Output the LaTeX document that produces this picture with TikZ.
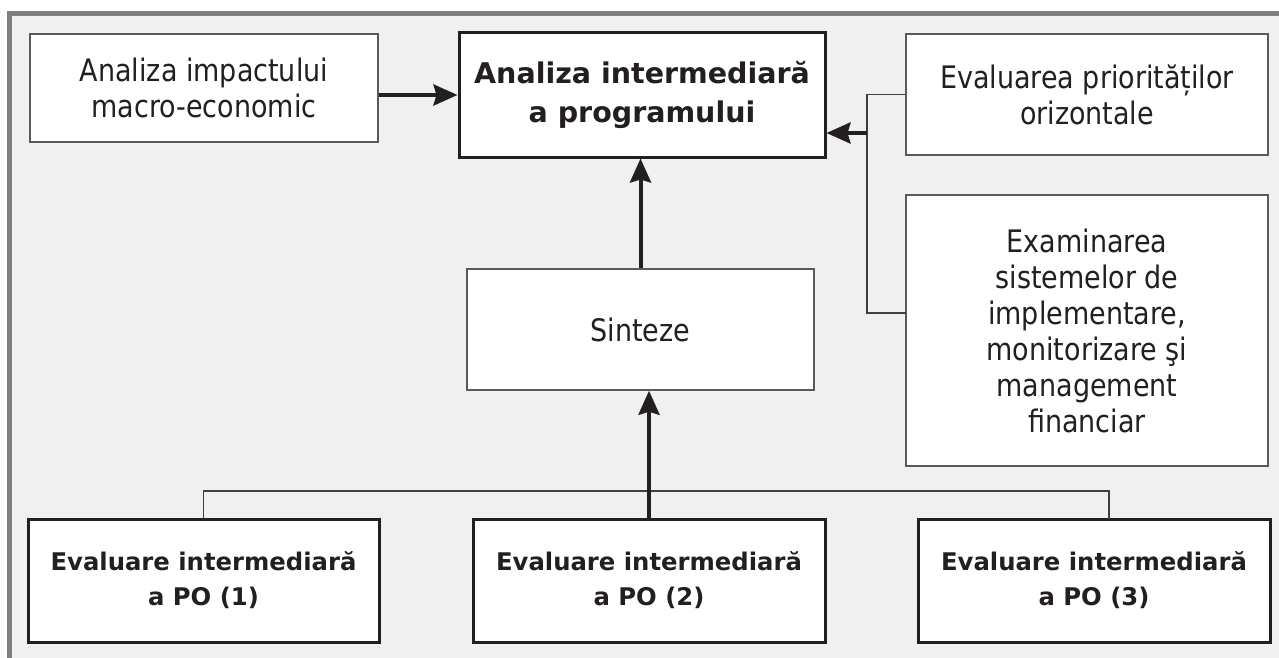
\documentclass[tikz,border=0pt]{standalone}
\usepackage{fontspec}
\usetikzlibrary{arrows.meta}
\newfontfamily\regf{DejaVu Sans}[FakeStretch=0.87]
\newfontfamily\boldf{DejaVu Sans}
\definecolor{ink}{HTML}{231F20}
\definecolor{boxgray}{HTML}{5A5A5A}
\definecolor{conngray}{HTML}{404040}
\definecolor{bggray}{HTML}{F0F0F0}
\definecolor{framegray}{HTML}{808080}
\begin{document}
\begin{tikzpicture}[x=1pt,y=-1pt,
  thinbox/.style={draw=boxgray, line width=1.5pt, fill=white, inner sep=0pt, text=ink, align=center,
    font=\regf\fontsize{31}{36}\selectfont},
  thickbox/.style={draw=ink, line width=3pt, fill=white, inner sep=0pt, text=ink, align=center},
  mainfont/.style={font=\boldf\bfseries\fontsize{28.5}{39}\selectfont},
  pofont/.style={font=\boldf\bfseries\fontsize{24.3}{35}\selectfont},
  arr/.style={draw=ink, line width=4pt, -{Stealth[length=24pt,width=21pt,inset=3pt]}},
  conn/.style={draw=conngray, line width=1.5pt}]
\useasboundingbox (0,0) rectangle (1279,658);
\fill[white] (0,0) rectangle (1279,658);
\fill[bggray] (7,11) rectangle (1279,658);
\fill[framegray] (7,11) rectangle (1279,16);
\fill[framegray] (7,11) rectangle (12,658);

\node[thinbox, minimum width=348pt, minimum height=108pt] (A) at (204,88) {Analiza impactului\\macro-economic};
\node[thickbox, mainfont, minimum width=366pt, minimum height=124pt] (M) at (642,95) {Analiza intermediară\\a programului};
\node[thinbox, minimum width=362pt, minimum height=121pt] (P) at (1087,94.5) {Evaluarea priorităților\\orizontale};
\node[thinbox, minimum width=362pt, minimum height=271pt] (X) at (1087,330.5) {Examinarea\\sistemelor de\\implementare,\\monitorizare şi\\management\\financiar};
\node[thinbox, minimum width=347pt, minimum height=121pt] (S) at (640.5,329.5) {Sinteze};
\node[thickbox, pofont, minimum width=351pt, minimum height=123pt] (B1) at (203.5,580.5) {Evaluare intermediară\\a PO (1)};
\node[thickbox, pofont, minimum width=352pt, minimum height=123pt] (B2) at (649,580.5) {Evaluare intermediară\\a PO (2)};
\node[thickbox, pofont, minimum width=352pt, minimum height=123pt] (B3) at (1094,580.5) {Evaluare intermediară\\a PO (3)};

\coordinate (bus) at (867,133);
\coordinate (xin) at (906,313);
\coordinate (busy) at (649,491);
\coordinate (b3in) at (1109,519);

\draw[conn] (P.west) -| (xin -| bus) -- (xin);
\draw[conn] (B1.north) |- (busy) -| (b3in);

\draw[arr] (M.west -| A.east) -- (M.west);
\draw[arr] (bus) -- (bus -| M.east);
\draw[arr] (S.north) -- (S.north |- M.south);
\draw[arr] (B2.north) -- (B2.north |- S.south);
\end{tikzpicture}
\end{document}
